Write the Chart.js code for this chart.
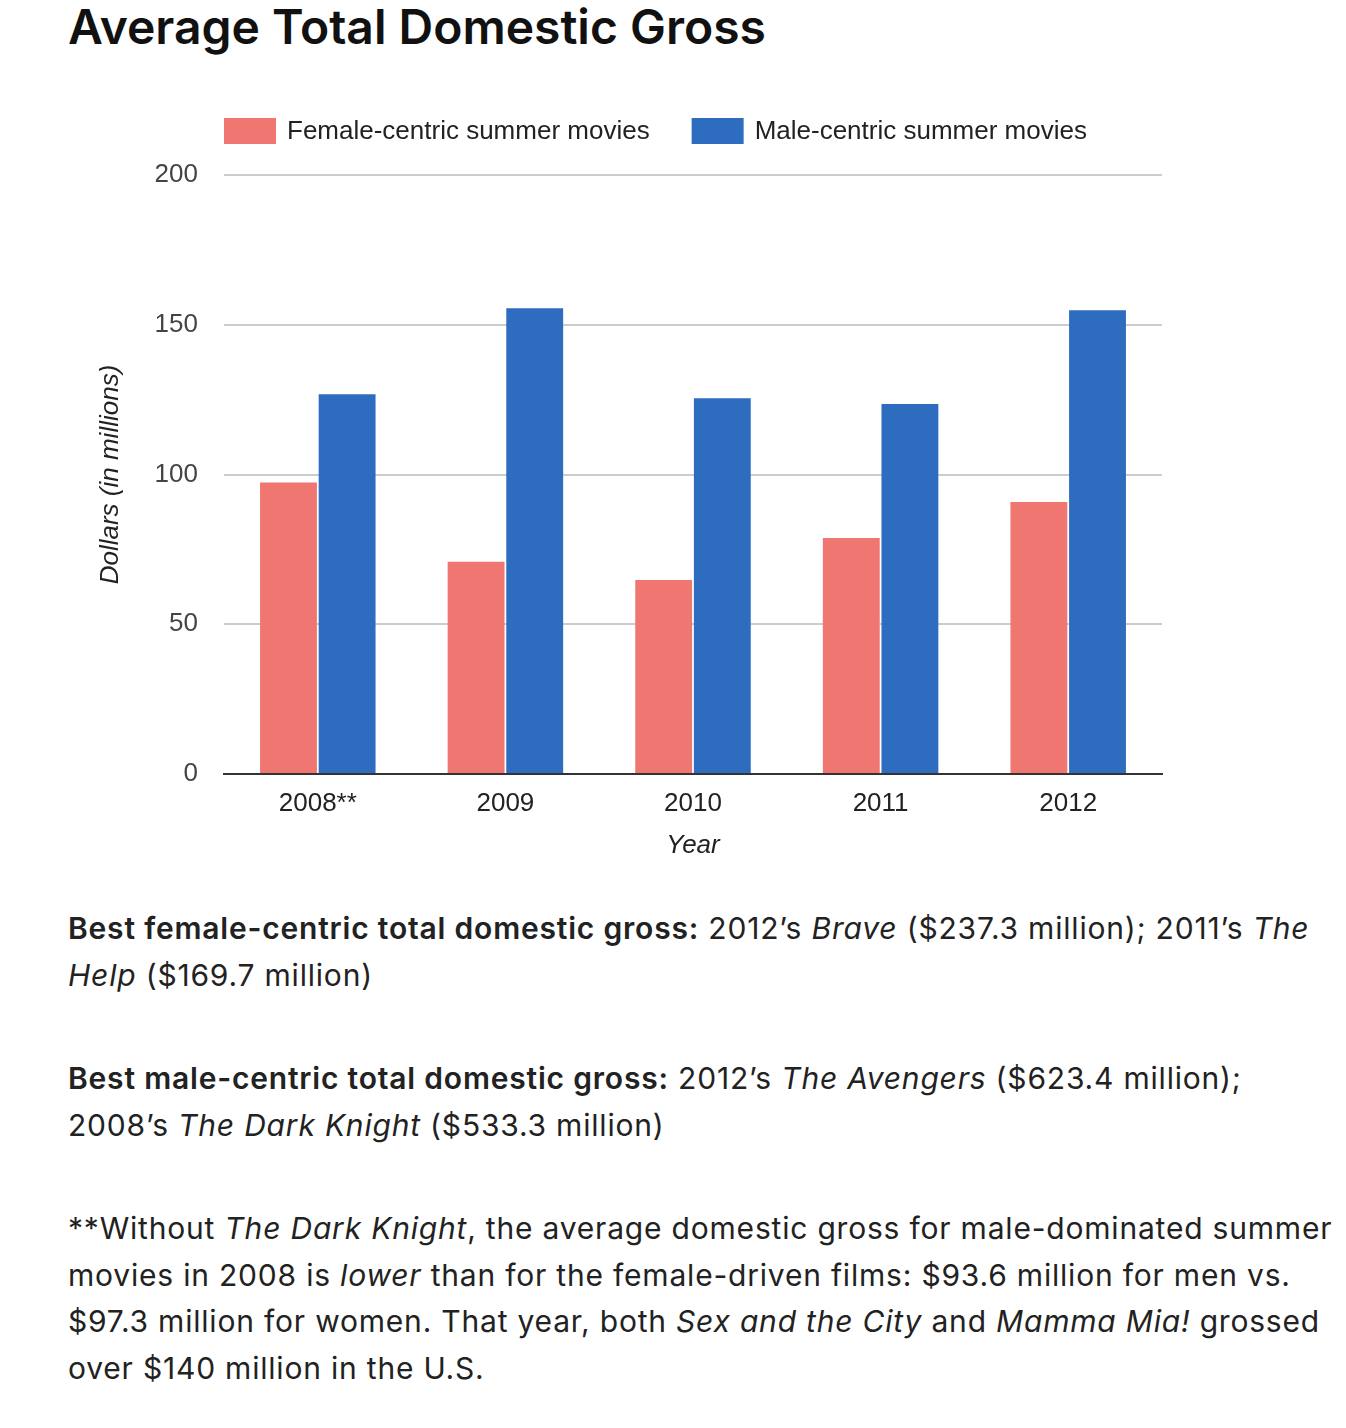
<!DOCTYPE html>
<html>
<head>
<meta charset="utf-8">
<title>Average Total Domestic Gross</title>
<script src="https://cdn.jsdelivr.net/npm/chart.js@4.4.1/dist/chart.umd.min.js"></script>
<style>
    body { margin: 0; background: #fff; width: 1346px; height: 1428px; position: relative; overflow: hidden; }
    h1 { position: absolute; left: 68px; top: -3px; margin: 0; font-family: Inter, sans-serif; font-weight: 600; font-size: 48px; line-height: 60px; color: #111; white-space: nowrap; }
    #chart-wrap { position: absolute; left: 0; top: 0; width: 1346px; height: 890px; }
    .note { position: absolute; left: 68px; margin: 0; font-family: Inter, sans-serif; font-size: 30px; letter-spacing: 0.8px; line-height: 46.5px; color: #222; white-space: nowrap; }
    .note b { font-weight: 600; }
</style>
</head>
<body>
<h1>Average Total Domestic Gross</h1>
<div id="chart-wrap"><canvas id="gross-chart"></canvas></div>

<p class="note" style="top:905px"><b>Best female-centric total domestic gross:</b> 2012’s <i>Brave</i> ($237.3 million); 2011’s <i>The</i><br><i>Help</i> ($169.7 million)</p>
<p class="note" style="top:1055px"><b>Best male-centric total domestic gross:</b> 2012’s <i>The Avengers</i> ($623.4 million);<br>2008’s <i>The Dark Knight</i> ($533.3 million)</p>
<p class="note" style="top:1205px">**Without <i>The Dark Knight</i>, the average domestic gross for male-dominated summer<br>movies in 2008 is <i>lower</i> than for the female-driven films: $93.6 million for men vs.<br>$97.3 million for women. That year, both <i>Sex and the City</i> and <i>Mamma Mia!</i> grossed<br>over $140 million in the U.S.</p>

<script>
// Données (millions de dollars)
const years = ['2008**', '2009', '2010', '2011', '2012'];
const femaleGross = [97.3, 70.9, 64.8, 78.8, 90.8];
const maleGross = [126.8, 155.5, 125.5, 123.5, 154.8];
const seriesNames = ['Female-centric summer movies', 'Male-centric summer movies'];
const yTicks = [0, 50, 100, 150, 200];

const chartFont = '"Liberation Sans", Arial, sans-serif';

// Légende dessinée à la main, alignée sur le bord gauche de la zone du graphique
const topLegend = {
    id: 'topLegend',
    afterDraw(chart) {
        const ctx = chart.ctx;
        let x = chart.chartArea.left;
        const y = 118;
        ctx.save();
        ctx.font = '26px ' + chartFont;
        ctx.textBaseline = 'middle';
        ctx.textAlign = 'left';
        chart.data.datasets.forEach(ds => {
            ctx.fillStyle = ds.backgroundColor;
            ctx.fillRect(x, y, 52, 26);
            x += 52 + 11;
            ctx.fillStyle = '#222';
            ctx.fillText(ds.label, x, y + 14);
            x += ctx.measureText(ds.label).width + 42;
        });
        ctx.restore();
    }
};

const ctx = document.getElementById('gross-chart').getContext('2d');
new Chart(ctx, {
    type: 'bar',
    data: {
        labels: years,
        datasets: [{
            label: seriesNames[0],
            data: femaleGross,
            backgroundColor: '#ef7671',
            categoryPercentage: 0.625,
            barPercentage: 0.97
        }, {
            label: seriesNames[1],
            data: maleGross,
            backgroundColor: '#2e6cc0',
            categoryPercentage: 0.625,
            barPercentage: 0.97
        }]
    },
    options: {
        responsive: true,
        maintainAspectRatio: false,
        animation: false,
        layout: { padding: { top: 175, right: 184, bottom: 26, left: 0 } },
        plugins: {
            legend: { display: false },
            tooltip: { enabled: false }
        },
        scales: {
            x: {
                grid: { display: false, drawTicks: false },
                border: { color: '#333', width: 2 },
                ticks: { color: '#222', padding: 14, font: { family: chartFont, size: 26 } },
                title: {
                    display: true,
                    text: 'Year',
                    color: '#222',
                    padding: { top: 0, bottom: 3 },
                    font: { family: chartFont, size: 26, style: 'italic' }
                },
                afterFit(scale) { scale.height = 90; }
            },
            y: {
                min: 0,
                max: 200,
                afterBuildTicks(scale) { scale.ticks = yTicks.map(v => ({ value: v })); },
                grid: { color: '#cccccc', lineWidth: 2, drawTicks: false },
                border: { display: false },
                ticks: { color: '#444', padding: 26, font: { family: chartFont, size: 26 } },
                title: {
                    display: true,
                    text: 'Dollars (in millions)',
                    color: '#222',
                    padding: { top: 95, bottom: 0 },
                    font: { family: chartFont, size: 26, style: 'italic' }
                },
                afterFit(scale) { scale.width = 224; }
            }
        }
    },
    plugins: [topLegend]
});
</script>
</body>
</html>
